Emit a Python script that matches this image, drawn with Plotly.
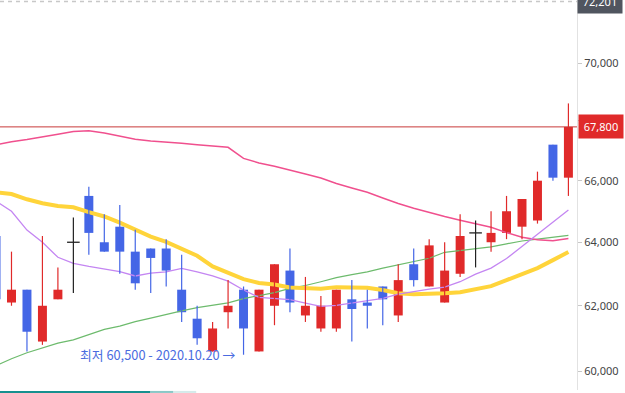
import math
import plotly.graph_objects as go

dates = ["2020.09.22", "2020.09.23", "2020.09.24", "2020.09.25", "2020.09.28", "2020.09.29",
         "2020.10.05", "2020.10.06", "2020.10.07", "2020.10.08", "2020.10.12", "2020.10.13",
         "2020.10.14", "2020.10.15", "2020.10.16", "2020.10.19", "2020.10.20", "2020.10.21",
         "2020.10.22", "2020.10.23", "2020.10.26", "2020.10.27", "2020.10.28", "2020.10.29",
         "2020.10.30", "2020.11.02", "2020.11.03", "2020.11.04", "2020.11.05", "2020.11.06",
         "2020.11.09", "2020.11.10", "2020.11.11", "2020.11.12", "2020.11.13", "2020.11.16",
         "2020.11.17", "2020.11.18"]

open_ = [64200, 62100, 62500, 60900, 62200, 64000, 65500, 64000, 64500, 63700, 63800, 63800,
         62500, 61600, 60600, 61800, 62500, 60600, 62000, 63100, 61700, 61300, 61300, 62200,
         62100, 62600, 61700, 63300, 62600, 62100, 63000, 64300, 64000, 64300, 64500, 64700,
         67200, 66100]
high = [64200, 63700, 62500, 64200, 63200, 64800, 65800, 64900, 65200, 64400, 63800, 64100,
        63600, 62000, 61500, 62800, 62600, 62500, 63300, 63800, 62900, 62300, 62500, 62800,
        62500, 62600, 63300, 63800, 64100, 64000, 64900, 64700, 65000, 65500, 65400, 66300,
        67200, 68600]
low = [62200, 62000, 60600, 60800, 62200, 62400, 63600, 63700, 63000, 62500, 62400, 62600,
       61500, 60800, 60600, 61300, 60500, 60600, 61400, 61800, 61500, 61200, 61200, 60900,
       61300, 61400, 61500, 62600, 62600, 62100, 62900, 63200, 63700, 64100, 64100, 64600,
       66000, 65500]
close = [62200, 62500, 61200, 62000, 62500, 64000, 64300, 63700, 63700, 62700, 63500, 63100,
         61800, 61000, 61300, 62000, 61300, 62500, 63300, 62100, 62000, 62000, 62500, 61900,
         62000, 62200, 62800, 62800, 63900, 63100, 64200, 64300, 64300, 65000, 65400, 66000,
         66100, 67800]

ma5 = [65330, 65000, 64390, 64000, 63520, 63330, 63230, 63160, 63070, 62930, 63020, 63060,
       63170, 63060, 62930, 62770, 62490, 62260, 62230, 62190, 62080, 61980, 62010, 62090,
       62150, 62230, 62360, 62450, 62520, 62580, 62750, 62990, 63180, 63480, 63870, 64260,
       64650, 65040]
ma20 = [65620, 65560, 65390, 65260, 65170, 65130, 64970, 64830, 64630, 64390, 64180, 64010,
        63790, 63570, 63230, 63040, 62830, 62710, 62660, 62570, 62550, 62530, 62580, 62580,
        62560, 62490, 62390, 62360, 62360, 62390, 62420, 62500, 62610, 62800, 63000, 63180,
        63430, 63690]
ma60 = [60170, 60380, 60560, 60700, 60850, 60950, 61110, 61270, 61370, 61510, 61620, 61740,
        61840, 61940, 62010, 62090, 62220, 62310, 62410, 62540, 62630, 62750, 62880, 62970,
        63060, 63180, 63290, 63380, 63490, 63680, 63740, 63780, 63850, 63950, 64040, 64100,
        64160, 64220]
ma120 = [67200, 67300, 67370, 67470, 67550, 67640, 67670, 67590, 67480, 67380, 67320, 67290,
         67250, 67200, 67160, 67110, 66740, 66590, 66480, 66360, 66220, 66090, 65910, 65760,
         65620, 65430, 65250, 65100, 64960, 64830, 64710, 64600, 64480, 64310, 64160, 64080,
         64050, 64120]

y_ticks = [60000, 62000, 64000, 66000, 68000, 70000]
y_tick_labels = ["60,000", "62,000", "64,000", "66,000", "", "70,000"]
top_label = 72201

RED = "#e02a2a"
BLUE = "#4466e6"
DOJI = "#222222"

fig = go.Figure()

# moving averages
fig.add_trace(go.Scatter(x=dates, y=ma60, mode="lines", line=dict(color="#6dbb6d", width=1.2), hoverinfo="skip"))
fig.add_trace(go.Scatter(x=dates, y=ma120, mode="lines", line=dict(color="#f0508e", width=1.5), hoverinfo="skip"))
fig.add_trace(go.Scatter(x=dates, y=ma20, mode="lines", line=dict(color="#ffd43a", width=4), hoverinfo="skip"))
fig.add_trace(go.Scatter(x=dates, y=ma5, mode="lines", line=dict(color="#c486f2", width=1.3), hoverinfo="skip"))

groups = {"up": ([], [], [], [], []), "down": ([], [], [], [], []), "doji": ([], [], [], [], [])}
for d, o, h, l, c in zip(dates, open_, high, low, close):
    key = "up" if c > o else ("down" if c < o else "doji")
    groups[key][0].append(d)
    groups[key][1].append(o)
    groups[key][2].append(h)
    groups[key][3].append(l)
    groups[key][4].append(c)

for key, color in (("up", RED), ("down", BLUE), ("doji", DOJI)):
    ds, os_, hs, ls, cs = groups[key]
    wx, wy = [], []
    for d, h, l in zip(ds, hs, ls):
        wx += [d, d, None]
        wy += [l, h, None]
    fig.add_trace(go.Scatter(x=wx, y=wy, mode="lines", line=dict(color=color, width=1.2),
                             hoverinfo="skip", connectgaps=False))
    if key == "doji":
        fig.add_trace(go.Scatter(x=ds, y=cs, mode="markers", hoverinfo="skip",
                                 marker=dict(symbol="line-ew", size=9, line=dict(width=1.3, color=color))))
    else:
        base = [min(o, c) for o, c in zip(os_, cs)]
        length = [abs(c - o) for o, c in zip(os_, cs)]
        fig.add_trace(go.Bar(x=ds, y=length, base=base, width=0.58, marker=dict(color=color, line=dict(width=0)),
                             hoverinfo="skip"))

# lowest point annotation
imin = min(range(len(low)), key=lambda i: low[i])
last_close = close[-1]

fig.update_layout(
    width=625, height=393,
    margin=dict(l=0, r=48, t=0, b=3),
    plot_bgcolor="white", paper_bgcolor="white",
    showlegend=False, barmode="overlay", hovermode=False,
    font=dict(family="Noto Sans", size=11, color="#444"),
    xaxis=dict(type="category", range=[0.257, 37.555], showticklabels=False, showgrid=False,
               zeroline=False, showline=False, ticks="", fixedrange=True),
    yaxis=dict(type="log", side="right", range=[4.77410, 4.85878], tickvals=y_ticks, ticktext=y_tick_labels,
               showgrid=False, zeroline=False, showline=True, linecolor="#e2e2e2", linewidth=1,
               ticks="outside", ticklen=4, tickcolor="#c8c8c8", tickfont=dict(family="Noto Sans", size=11, color="#444"),
               fixedrange=True),
    shapes=[
        dict(type="line", xref="paper", x0=0, x1=1, yref="y", y0=last_close, y1=last_close,
             line=dict(color="#c83a3a", width=1)),
        dict(type="line", xref="paper", x0=0, x1=1, yref="paper", y0=0.996, y1=0.996,
             line=dict(color="#c8c8c8", width=1.5, dash="4px,4px")),
        dict(type="line", xref="paper", x0=0, x1=0.26, yref="paper", y0=-0.005, y1=-0.005,
             line=dict(color="#17908f", width=2)),
        dict(type="line", xref="paper", x0=0.26, x1=0.30, yref="paper", y0=-0.005, y1=-0.005,
             line=dict(color="#17908f", width=2), opacity=0.5),
        dict(type="line", xref="paper", x0=0.30, x1=0.34, yref="paper", y0=-0.005, y1=-0.005,
             line=dict(color="#17908f", width=2), opacity=0.18),
    ],
    annotations=[
        dict(x=dates[imin], y=math.log10(low[imin]), yref="y", xref="x", xanchor="right", yanchor="middle",
             xshift=-7, text=f"최저 {low[imin]:,} - {dates[imin]} →", showarrow=False,
             font=dict(family="Noto Sans CJK KR", size=12.8, color="#4a6be0")),
        dict(x=1, xref="paper", y=math.log10(last_close), yref="y", xanchor="left", yanchor="middle", xshift=1,
             text=f"{last_close:,}", showarrow=False, bgcolor=RED, borderpad=4, width=36,
             font=dict(family="Noto Sans", size=11, color="white")),
        dict(x=1, xref="paper", y=1, yref="paper", xanchor="left", yanchor="middle", xshift=0, yshift=-1,
             text=f"{top_label:,}", showarrow=False, bgcolor="#50555f", borderpad=4, width=36,
             font=dict(family="Noto Sans", size=11, color="white")),
    ],
)

fig.write_html("out.html", config={"displayModeBar": False},
               post_script="document.body.style.margin='0';")
